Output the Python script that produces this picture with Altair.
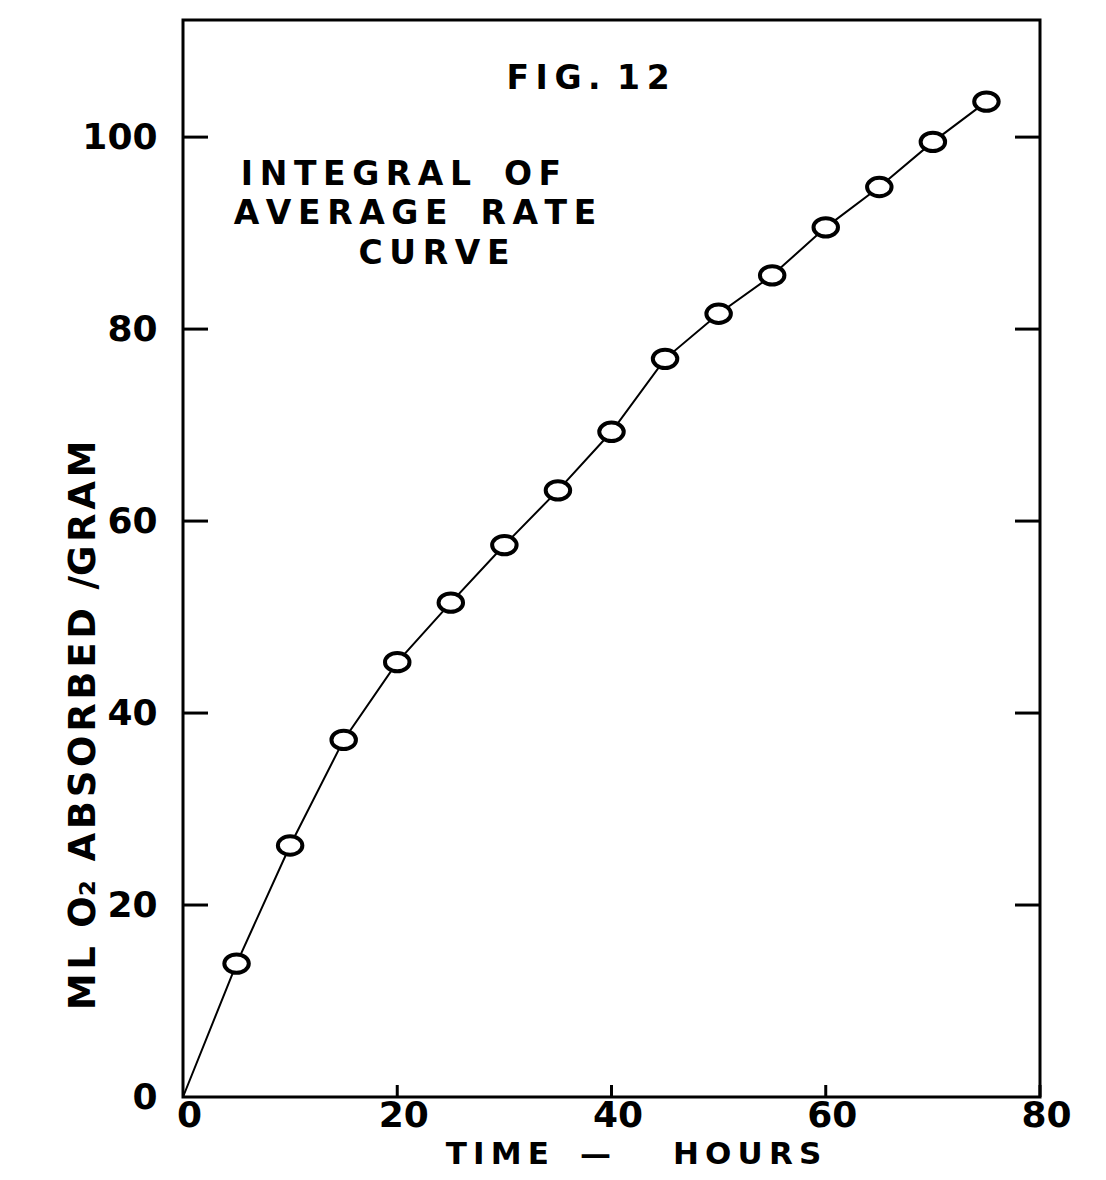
import altair as alt
import pandas as pd

# ---- data ----
hours = [5, 10, 15, 20, 25, 30, 35, 40, 45, 50, 55, 60, 65, 70, 75]
ml_o2 = [13.9, 26.2, 37.2, 45.3, 51.5, 57.5, 63.2, 69.3, 76.9, 81.6, 85.6, 90.6, 94.8, 99.5, 103.7]
start_hours = [0]
start_ml = [0]
y_tick_values = [20, 40, 60, 80, 100]
x_tick_values = [20, 40, 60, 80]
y_label_values = [0, 20, 40, 60, 80, 100]
x_label_values = [0, 20, 40, 60, 80]

FONT = "DejaVu Sans"
W, H = 857, 1077
TS = "\u2009"   # thin space (letter spacing)
HS = "\u200a"   # hair space
EN = "\u2002"   # en space (word gap, not collapsed)
EM = "\u2003"


def spaced(s, sep=TS):
    return sep.join(list(s))


line_df = pd.DataFrame({"hours": start_hours + hours, "ml": start_ml + ml_o2})
pts_df = pd.DataFrame({"hours": hours, "ml": ml_o2})
yt_df = pd.DataFrame({"ml": y_tick_values})
xt_df = pd.DataFrame({"hours": x_tick_values})

xs = alt.Scale(domain=[0, 80], nice=False, zero=False)
ys = alt.Scale(domain=[0, 112.2], nice=False, zero=False)

x_axis = alt.Axis(
    values=x_label_values, ticks=False, domain=False, grid=False,
    labelFont=FONT, labelFontSize=36, labelFontWeight="bold", labelColor="black",
    labelPadding=1, labelOffset=6, labelFlush=False,
    title=spaced("TIME") + EM + "—" + EM + EM + spaced("HOURS"),
    titleFont=FONT, titleFontSize=31, titleFontWeight="bold", titleColor="black",
    titleX=450, titleY=42, titleBaseline="top", titleAnchor="middle", titleAlign="center")
y_axis = alt.Axis(
    values=y_label_values, ticks=False, domain=False, grid=False,
    labelFont=FONT, labelFontSize=36, labelFontWeight="bold", labelColor="black",
    labelPadding=26, labelFlush=False,
    title=spaced("ML", HS) + EN + "O₂" + EN + spaced("ABSORBED", HS) + EN + "/" + spaced("GRAM", HS),
    titleFont=FONT, titleFontSize=37, titleFontWeight="bold", titleColor="black",
    titleAngle=-90, titleX=-100, titleY=705, titleBaseline="middle", titleAlign="center")

X = alt.X("hours:Q", scale=xs, axis=x_axis)
Y = alt.Y("ml:Q", scale=ys, axis=y_axis)

line = alt.Chart(line_df).mark_line(color="black", strokeWidth=2).encode(x=X, y=Y)

ellipse = "M-1,0A1,0.75,0,1,0,1,0A1,0.75,0,1,0,-1,0Z"
points = alt.Chart(pts_df).mark_point(
    shape=ellipse, size=600, filled=True, fill="white", stroke="black",
    strokeWidth=4, opacity=1, fillOpacity=1
).encode(x=X, y=Y)

left_ticks = alt.Chart(yt_df).mark_rule(color="black", strokeWidth=3).encode(
    y=Y, x=alt.value(0), x2=alt.value(25))
right_ticks = alt.Chart(yt_df).mark_rule(color="black", strokeWidth=3).encode(
    y=Y, x=alt.value(W - 25), x2=alt.value(W))
bottom_ticks = alt.Chart(xt_df).mark_rule(color="black", strokeWidth=3).encode(
    x=X, y=alt.value(H - 12), y2=alt.value(H))


def label(text, px, py):
    return alt.Chart(pd.DataFrame({"t": [text]})).mark_text(
        font=FONT, fontSize=33, fontWeight="bold", color="black",
        align="center", baseline="middle"
    ).encode(x=alt.value(px), y=alt.value(py), text="t:N")


fig = label(spaced("FIG.") + EN + spaced("12"), 405, 59)
t1 = label(spaced("INTEGRAL") + EN + EN + spaced("OF"), 218, 155)
t2 = label(spaced("AVERAGE") + EN + EN + spaced("RATE"), 232, 194)
t3 = label(spaced("CURVE"), 251, 234)

chart = alt.layer(
    line, points, left_ticks, right_ticks, bottom_ticks, fig, t1, t2, t3
).properties(
    width=W, height=H,
    autosize=alt.AutoSizeParams(type="none"),
    padding={"left": 175, "top": 12, "right": 50, "bottom": 72},
).configure(
    background="white"
).configure_view(
    stroke="black", strokeWidth=3
)

chart.save("out.html", embed_options={"renderer": "svg", "actions": False})
